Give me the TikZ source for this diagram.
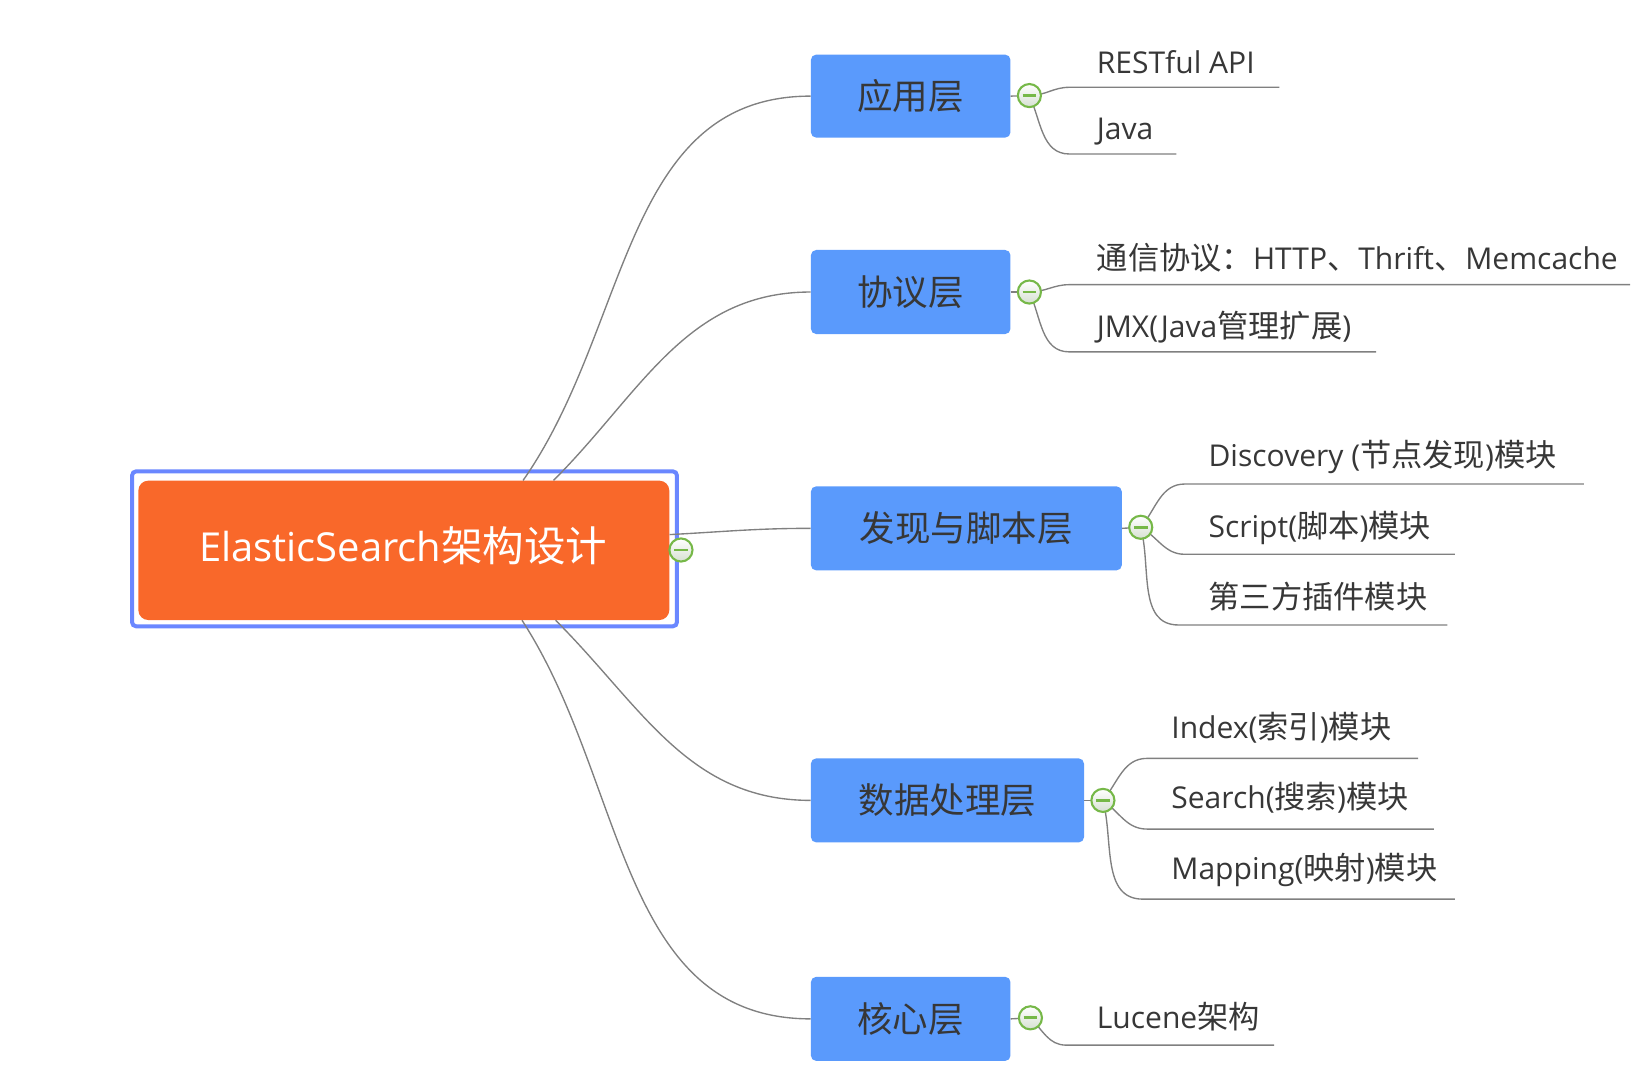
\documentclass[tikz,border=0pt]{standalone}
\usepackage{fontspec}
\setmainfont{Open Sans}
\newfontfamily\zhfont{Noto Sans CJK SC}[Scale=1.04]
\newcommand\zhtext[1]{{\zhfont #1}}
\definecolor{boxblue}{RGB}{90,154,252}
\definecolor{rootorange}{RGB}{249,104,42}
\definecolor{frameblue}{RGB}{106,135,255}
\definecolor{linegray}{RGB}{128,128,128}
\definecolor{txtgray}{RGB}{55,55,55}
\definecolor{mmgreen}{RGB}{118,184,72}
\definecolor{mmfill}{RGB}{214,224,210}
\begin{document}
\begin{tikzpicture}[x=1pt,y=1pt,
  lbox/.style={rectangle, rounded corners=5, fill=boxblue, text=txtgray,
    font=\fontsize{32.5}{38}\selectfont, inner sep=0, minimum height=80},
  leaf/.style={anchor=base west, text=txtgray, inner sep=0,
    font=\fontsize{28.6}{35}\selectfont},
  conn/.style={draw=linegray, line width=1.3},
  circ/.style={circle, draw=mmgreen, line width=2, minimum size=22, inner sep=0,
    top color=white, bottom color=mmfill,
    path picture={\draw[mmgreen, line width=2.6]
      ([xshift=-6.5]path picture bounding box.center) --
      ([xshift=6.5]path picture bounding box.center);}}
]
\useasboundingbox (0,0) rectangle (1568,-1017);

% root
\node[rectangle, rounded corners=4, draw=frameblue, line width=3.8,
  minimum width=518.8, minimum height=147.6, inner sep=0] (frame) at (385.1,-522.5) {};
\node[rectangle, rounded corners=9.5, fill=rootorange, minimum width=505.5,
  minimum height=132.7, inner sep=0] (root) at (384.45,-523.95) {};
\node[anchor=base, text=white, inner sep=0, font=\fontsize{38}{46}\selectfont]
  (roottext) at (384,-534.8) {ElasticSearch\zhtext{架构设计}};

% first-level boxes
\node[lbox, minimum width=190, minimum height=79] (b1) at (867,-91.5) {\zhtext{应用层}};
\node[lbox, minimum width=190] (b2) at (867,-278) {\zhtext{协议层}};
\node[lbox, minimum width=296] (b3) at (920,-503) {\zhtext{发现与脚本层}};
\node[lbox, minimum width=260] (b4) at (902,-762) {\zhtext{数据处理层}};
\node[lbox, minimum width=190] (b5) at (867,-970) {\zhtext{核心层}};

% circle centres
\coordinate (cc0) at (648.3,-523.6);
\coordinate (cc1) at (980,-91);
\coordinate (cc2) at (980,-278);
\coordinate (cc3) at (1086,-502);
\coordinate (cc4) at (1050,-762);
\coordinate (cc5) at (981,-969);

% leaves
\node[leaf] (t11) at (1044,-69.8) {RESTful API};
\node[leaf] (t12) at (1044,-132.6) {Java};
\node[leaf] (t21) at (1044,-257) {\zhtext{通信协议：}HTTP\zhtext{、}Thrift\zhtext{、}Memcache};
\node[leaf] (t22) at (1044,-321) {JMX(Java\zhtext{管理扩展})};
\node[leaf] (t31) at (1150.4,-444.3) {Discovery (\zhtext{节点发现})\zhtext{模块}};
\node[leaf] (t32) at (1150.4,-511.9) {Script(\zhtext{脚本})\zhtext{模块}};
\node[leaf] (t33) at (1150.4,-579) {\zhtext{第三方插件模块}};
\node[leaf] (t41) at (1115,-703) {Index(\zhtext{索引})\zhtext{模块}};
\node[leaf] (t42) at (1115,-769.5) {Search(\zhtext{搜索})\zhtext{模块}};
\node[leaf] (t43) at (1115,-837) {Mapping(\zhtext{映射})\zhtext{模块}};
\node[leaf] (t51) at (1044,-979) {Lucene\zhtext{架构}};

% underline coordinates
\coordinate (s11) at (1018,-83.1);  \coordinate (e11) at (1218,-83.1);
\coordinate (s12) at (1018,-146.6); \coordinate (e12) at (1120,-146.6);
\coordinate (s21) at (1018,-271);   \coordinate (e21) at (1552,-271);
\coordinate (s22) at (1018,-335);   \coordinate (e22) at (1310,-335);
\coordinate (s31) at (1128,-460.8); \coordinate (e31) at (1508,-460.8);
\coordinate (s32) at (1128,-527.7); \coordinate (e32) at (1385,-527.7);
\coordinate (s33) at (1122,-595);   \coordinate (e33) at (1378,-595);
\coordinate (s41) at (1092,-722);   \coordinate (e41) at (1350,-722);
\coordinate (s42) at (1092,-789.3); \coordinate (e42) at (1365,-789.3);
\coordinate (s43) at (1088,-856);   \coordinate (e43) at (1385,-856);
\coordinate (s51) at (1015,-995);   \coordinate (e51) at (1213,-995);

% root connectors
\draw[conn] ([xshift=113.5]root.north) to[out=55,in=180] (b1.west);
\draw[conn] ([xshift=142.5]root.north) to[out=45,in=180] (b2.west);
\draw[conn] ([yshift=15]root.east) to[out=3,in=180] (b3.west);
\draw[conn] ([xshift=144.5]root.south) to[out=-45,in=180] (b4.west);
\draw[conn] ([xshift=112.5]root.south) to[out=-57,in=180] (b5.west);

% box to circle
\draw[conn] (b1.east) -- (cc1);
\draw[conn] (b2.east) -- (cc2);
\draw[conn] (b3.east) -- (cc3);
\draw[conn] (b4.east) -- (cc4);
\draw[conn] (b5.east) -- (cc5);

% circle to leaves
\draw[conn] (cc1) to[out=0,in=180] (s11) -- (e11);
\draw[conn] (cc1) to[out=-65,in=180] (s12) -- (e12);
\draw[conn] (cc2) to[out=0,in=180] (s21) -- (e21);
\draw[conn] (cc2) to[out=-65,in=180] (s22) -- (e22);
\draw[conn] (cc3) to[out=50,in=180] (s31) -- (e31);
\draw[conn] (cc3) to[out=-30,in=180] (s32) -- (e32);
\draw[conn] (cc3) to[out=-75,in=180] (s33) -- (e33);
\draw[conn] (cc4) to[out=50,in=180] (s41) -- (e41);
\draw[conn] (cc4) to[out=-35,in=180] (s42) -- (e42);
\draw[conn] (cc4) to[out=-75,in=180] (s43) -- (e43);
\draw[conn] (cc5) to[out=-45,in=180] (s51) -- (e51);

% collapse circles
\node[circ] (k0) at (cc0) {};
\node[circ] (k1) at (cc1) {};
\node[circ] (k2) at (cc2) {};
\node[circ] (k3) at (cc3) {};
\node[circ] (k4) at (cc4) {};
\node[circ] (k5) at (cc5) {};
\end{tikzpicture}
\end{document}
